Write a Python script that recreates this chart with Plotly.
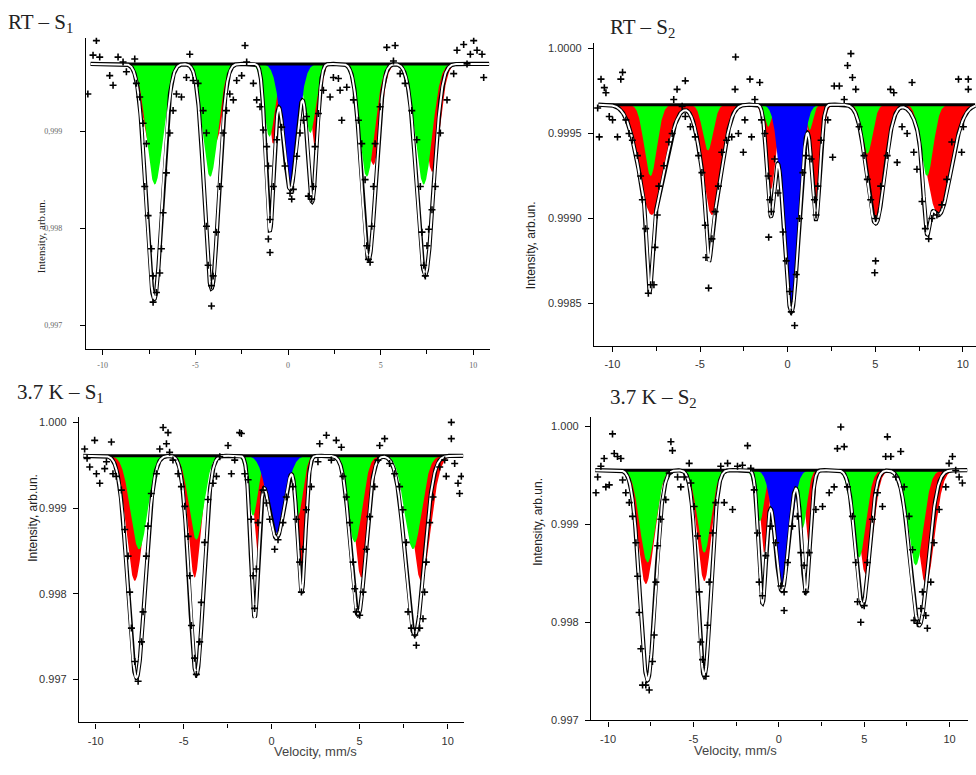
import numpy as np
import plotly.graph_objects as go

# line components: position (mm/s), depth below baseline, gaussian sigma
# ---------------- RT - S1 ----------------
rt1_base = 0.99969
rt1_green_pos = [-7.19, -4.2, -1.0, 1.2, 4.25, 7.32]
rt1_green_dep = [0.00124, 0.00116, 0.00075, 0.00071, 0.00116, 0.00124]
rt1_green_sig = [0.45, 0.42, 0.3, 0.3, 0.42, 0.45]
rt1_red_pos = [-7.5, -3.9, -0.8, 1.45, 4.6, 7.78]
rt1_red_dep = [0.0008, 0.0008, 0.00082, 0.00085, 0.00104, 0.00111]
rt1_red_sig = [0.4, 0.38, 0.25, 0.25, 0.38, 0.4]
rt1_blue_pos = [0.1]
rt1_blue_dep = [0.00124]
rt1_blue_sig = [0.42]
rt1_fit_pos = [-7.22, -4.13, -0.98, 0.12, 1.3, 4.35, 7.4]
rt1_fit_dep = [0.00242, 0.00231, 0.0017, 0.00129, 0.00141, 0.00201, 0.00217]
rt1_fit_sig = [0.42, 0.38, 0.22, 0.36, 0.24, 0.38, 0.44]
rt1_x = [-10.34, -10.52, -10.16, -10.8, -9.62, -9.44, -9.17, -8.9, -8.27, -8.72, -8.18, -8.0, -7.82, -7.64,
         -7.73, -7.55, -7.37, -7.28, -7.28, -7.1, -6.92, -6.83, -6.74, -6.56, -6.38, -6.2, -6.02, -5.75,
         -5.48, -5.3, -5.12, -4.85, -4.58, -4.4, -4.4, -4.31, -4.13, -4.13, -4.04, -3.86, -3.68, -3.5,
         -3.32, -3.14, -2.95, -2.77, -2.5, -2.32, -2.23, -1.87, -1.69, -1.51, -1.33, -1.15, -1.06, -0.97,
         -1.06, -0.97, -0.79, -0.61, -0.34, -0.16, 0.11, 0.2, 0.29, 0.47, 0.65, 0.83, 1.0, 1.1, 1.28,
         1.37, 1.46, 1.64, 1.91, 2.27, 2.45, 2.72, 2.9, 2.81, 3.17, 3.53, 3.8, 3.98, 4.16, 4.25, 4.34,
         4.43, 4.52, 4.61, 4.7, 4.97, 5.33, 5.78, 5.69, 6.05, 6.32, 6.68, 6.95, 7.14, 7.23, 7.32, 7.41,
         7.5, 7.59, 7.77, 7.95, 8.22, 8.58, 8.94, 9.12, 9.48, 9.84, 10.02, 10.2, 10.47, 10.56, 9.66]
rt1_y = [0.99993, 0.99978, 0.99976, 0.99938, 0.99957, 0.99947, 0.99976, 0.99971, 0.99974, 0.99961, 0.99949,
         0.99935, 0.99908, 0.99887, 0.99843, 0.99813, 0.99779, 0.99751, 0.99724, 0.99734, 0.99754, 0.99779,
         0.99816, 0.99857, 0.99898, 0.99921, 0.99938, 0.99935, 0.99955, 0.99979, 0.99952, 0.99949, 0.99921,
         0.99898, 0.99802, 0.99762, 0.99741, 0.9972, 0.99751, 0.99796, 0.99843, 0.99898, 0.99921, 0.99938,
         0.99932, 0.99952, 0.99957, 0.99988, 0.99971, 0.99949, 0.99932, 0.99925, 0.99901, 0.99884, 0.99864,
         0.99809, 0.99789, 0.99775, 0.99843, 0.99891, 0.99904, 0.99864, 0.99836, 0.9983, 0.9984, 0.99874,
         0.99898, 0.99911, 0.99915, 0.99833, 0.9983, 0.99843, 0.99884, 0.99918, 0.99942, 0.99935, 0.99955,
         0.99954, 0.99911, 0.99942, 0.99945, 0.99932, 0.99911, 0.99887, 0.9985, 0.99782, 0.99768, 0.99765,
         0.99802, 0.99843, 0.99887, 0.99925, 0.99986, 0.99988, 0.99972, 0.99959, 0.99949, 0.99921, 0.99891,
         0.99843, 0.99796, 0.99762, 0.99751, 0.99782, 0.99799, 0.99819, 0.99843, 0.99898, 0.99932, 0.99959,
         0.99983, 0.99989, 0.99979, 0.99993, 0.99983, 0.99979, 0.99955, 0.99969]

# ---------------- RT - S2 ----------------
rt2_base = 0.99967
rt2_green_pos = [-7.82, -4.55, -1.11, 1.25, 4.55, 7.95]
rt2_green_dep = [0.00042, 0.00027, 0.00013, 0.00015, 0.00029, 0.00042]
rt2_green_sig = [0.36, 0.3, 0.2, 0.2, 0.3, 0.36]
rt2_red_pos = [-7.76, -4.32, -0.96, 1.62, 5.02, 8.61]
rt2_red_dep = [0.00065, 0.00065, 0.0005, 0.00065, 0.00068, 0.00065]
rt2_red_sig = [0.72, 0.55, 0.28, 0.28, 0.55, 0.7]
rt2_blue_pos = [0.17]
rt2_blue_dep = [0.00121]
rt2_blue_sig = [0.45]
rt2_fit_pos = [-7.76, -7.88, -4.32, -4.5, -0.96, 0.21, 1.62, 5.02, 8.61, 7.92]
rt2_fit_dep = [0.00065, 0.00046, 0.00065, 0.0003, 0.00063, 0.00122, 0.00067, 0.0007, 0.00065, 0.00035]
rt2_fit_sig = [0.72, 0.14, 0.55, 0.14, 0.22, 0.42, 0.22, 0.5, 0.7, 0.18]
rt2_x = [-10.84, -10.75, -10.65, -10.46, -10.37, -10.18, -9.99, -9.71, -9.52, -9.42, -9.23, -9.05, -8.86,
         -8.57, -8.39, -8.29, -8.1, -7.95, -7.82, -7.63, -7.57, -7.44, -7.35, -7.06, -6.78, -6.59, -6.5,
         -6.31, -6.02, -5.84, -5.84, -5.55, -5.27, -5.08, -4.89, -4.7, -4.66, -4.51, -4.32, -4.14, -3.95,
         -3.76, -3.48, -3.19, -3.0, -2.97, -2.81, -2.53, -2.44, -2.15, -2.06, -1.87, -1.59, -1.49, -1.3,
         -1.11, -1.02, -0.93, -1.08, -0.74, -0.55, -0.26, -0.08, 0.11, 0.21, 0.4, 0.49, 0.68, 0.87, 1.06,
         1.34, 1.53, 1.62, 1.72, 1.91, 2.29, 2.57, 2.66, 2.95, 3.23, 3.42, 3.61, 3.7, 3.89, 4.08, 4.36,
         4.55, 4.74, 5.02, 5.02, 4.97, 5.31, 5.68, 5.87, 6.06, 6.25, 6.53, 6.82, 7.1, 7.2, 7.38, 7.67,
         7.86, 8.05, 8.23, 8.52, 8.8, 9.08, 9.37, 9.75, 9.93, 10.03, 10.31, 10.31]
rt2_y = [0.99965, 0.99948, 0.99982, 0.99977, 0.99974, 0.9996, 0.99958, 0.99948, 0.99982, 0.99986, 0.99958,
         0.9995, 0.99946, 0.99937, 0.99925, 0.99911, 0.99894, 0.99856, 0.99861, 0.99861, 0.99883, 0.99902,
         0.99919, 0.99931, 0.99945, 0.9995, 0.9997, 0.99976, 0.99966, 0.99981, 0.9996, 0.99954, 0.99948,
         0.99937, 0.99927, 0.99896, 0.99877, 0.99859, 0.99888, 0.99904, 0.99919, 0.99939, 0.99946, 0.99948,
         0.99976, 0.99995, 0.9995, 0.99939, 0.99958, 0.99982, 0.99948, 0.9997, 0.9998, 0.99958, 0.9995,
         0.99925, 0.99911, 0.99904, 0.99889, 0.99935, 0.99915, 0.99892, 0.99875, 0.99857, 0.99845, 0.99837,
         0.99867, 0.999, 0.99927, 0.99937, 0.99935, 0.99911, 0.99902, 0.99919, 0.99946, 0.99958, 0.99936,
         0.99978, 0.99978, 0.9997, 0.9999, 0.99997, 0.99983, 0.99976, 0.99954, 0.99937, 0.99923, 0.99911,
         0.999, 0.99875, 0.99868, 0.99919, 0.99937, 0.99976, 0.99974, 0.99933, 0.99954, 0.9995, 0.9998,
         0.99939, 0.99929, 0.9991, 0.99894, 0.99888, 0.999, 0.99902, 0.99908, 0.99923, 0.99945, 0.99982,
         0.99939, 0.99954, 0.99976, 0.99982]

# ---------------- 3.7 K - S1 ----------------
lt1_base = 0.99961
lt1_green_pos = [-7.54, -4.28, -1.06, 1.5, 4.72, 8.03]
lt1_green_dep = [0.00109, 0.00098, 0.0007, 0.0007, 0.00101, 0.00109]
lt1_green_sig = [0.48, 0.42, 0.28, 0.28, 0.42, 0.48]
lt1_red_pos = [-7.78, -4.38, -0.78, 1.69, 5.09, 8.5]
lt1_red_dep = [0.00146, 0.00142, 0.00113, 0.00138, 0.00142, 0.00146]
lt1_red_sig = [0.48, 0.36, 0.22, 0.22, 0.4, 0.52]
lt1_blue_pos = [0.27]
lt1_blue_dep = [0.0009]
lt1_blue_sig = [0.5]
lt1_fit_pos = [-7.69, -4.28, -0.97, 0.27, 1.69, 4.91, 8.13]
lt1_fit_dep = [0.00259, 0.00255, 0.00186, 0.00096, 0.00159, 0.00186, 0.00209]
lt1_fit_sig = [0.48, 0.4, 0.22, 0.45, 0.22, 0.42, 0.52]
lt1_x = [-10.63, -10.49, -10.34, -10.06, -9.96, -9.77, -9.49, -9.39, -9.11, -9.02, -8.83, -8.54, -8.35,
         -8.16, -8.07, -7.97, -7.78, -7.59, -7.4, -7.31, -7.12, -7.03, -6.84, -6.55, -6.36, -6.17, -5.98,
         -5.89, -5.8, -5.61, -5.32, -5.13, -4.94, -4.75, -4.66, -4.56, -4.38, -4.28, -4.09, -4.0, -3.81,
         -3.62, -3.33, -3.14, -2.95, -2.48, -2.29, -2.1, -1.82, -1.72, -1.53, -1.34, -1.16, -1.06, -0.97,
         -0.87, -0.78, -0.49, -0.3, -0.11, 0.17, 0.36, 0.64, 0.83, 1.21, 1.4, 1.59, 1.69, 1.78, 1.97, 2.25,
         2.63, 2.73, 3.11, 3.39, 3.67, 3.96, 4.05, 4.24, 4.43, 4.62, 4.72, 4.81, 5.0, 5.19, 5.38, 5.57,
         5.85, 6.04, 6.14, 6.42, 6.7, 6.99, 7.27, 7.46, 7.65, 7.75, 7.94, 8.13, 8.22, 8.41, 8.6, 8.69,
         8.79, 8.98, 9.17, 9.55, 9.83, 9.92, 10.21, 10.21, 10.4, 10.59, 10.68, 10.78]
lt1_y = [0.99969, 0.99958, 0.99948, 0.99979, 0.9994, 0.99929, 0.99946, 0.99954, 0.99977, 0.9994, 0.99937,
         0.99921, 0.99875, 0.99844, 0.99802, 0.9976, 0.99721, 0.99698, 0.99744, 0.99779, 0.99844, 0.99879,
         0.99917, 0.9994, 0.99969, 0.99994, 0.99975, 0.99988, 0.99965, 0.99956, 0.9994, 0.99925, 0.99902,
         0.99867, 0.99821, 0.99763, 0.99725, 0.99706, 0.99744, 0.9979, 0.9986, 0.9991, 0.99929, 0.99937,
         0.9996, 0.99973, 0.9994, 0.99956, 0.99988, 0.99987, 0.9994, 0.99933, 0.99887, 0.99821, 0.99783,
         0.99829, 0.99883, 0.99921, 0.99906, 0.99887, 0.99852, 0.99863, 0.99883, 0.99913, 0.99925, 0.99887,
         0.99837, 0.99802, 0.99852, 0.99898, 0.99925, 0.99954, 0.99975, 0.99985, 0.99956, 0.99979, 0.99971,
         0.99937, 0.99913, 0.99883, 0.99837, 0.99806, 0.99779, 0.99775, 0.99802, 0.99852, 0.9989, 0.99925,
         0.99956, 0.99973, 0.99981, 0.99952, 0.9994, 0.99925, 0.99898, 0.9986, 0.99779, 0.9976, 0.99752,
         0.9974, 0.9976, 0.99771, 0.99802, 0.99837, 0.99883, 0.99913, 0.99948, 0.99956, 0.99937, 1.0,
         0.99981, 0.99952, 0.99929, 0.99917, 0.99937]

# ---------------- 3.7 K - S2 ----------------
lt2_base = 0.99955
lt2_green_pos = [-7.69, -4.37, -1.11, 1.39, 4.7, 8.02]
lt2_green_dep = [0.00094, 0.00084, 0.00052, 0.00059, 0.00089, 0.00097]
lt2_green_sig = [0.45, 0.4, 0.26, 0.26, 0.4, 0.45]
lt2_red_pos = [-7.79, -4.37, -0.86, 1.78, 5.09, 8.61]
lt2_red_dep = [0.00116, 0.00113, 0.00084, 0.00081, 0.00106, 0.00116]
lt2_red_sig = [0.48, 0.4, 0.22, 0.22, 0.42, 0.5]
lt2_blue_pos = [0.21]
lt2_blue_dep = [0.00124]
lt2_blue_sig = [0.45]
lt2_fit_pos = [-7.69, -4.37, -0.96, 0.18, 1.58, 4.9, 8.22]
lt2_fit_dep = [0.00214, 0.0021, 0.00134, 0.00123, 0.00124, 0.00138, 0.00158]
lt2_fit_sig = [0.44, 0.38, 0.22, 0.38, 0.24, 0.4, 0.52]
lt2_x = [-10.71, -10.61, -10.42, -10.23, -10.13, -9.93, -9.74, -9.64, -9.45, -9.25, -9.15, -8.96, -8.76,
         -8.57, -8.37, -8.27, -8.18, -8.08, -7.98, -7.79, -7.59, -7.4, -7.3, -7.2, -7.1, -6.91, -6.62,
         -6.42, -6.32, -6.23, -5.93, -5.74, -5.54, -5.25, -5.15, -4.96, -4.76, -4.66, -4.57, -4.47, -4.27,
         -4.18, -4.08, -3.88, -3.69, -3.4, -3.2, -3.0, -2.71, -2.42, -2.13, -1.83, -1.64, -1.44, -1.25,
         -1.15, -0.96, -0.76, -0.47, -0.18, 0.12, 0.31, 0.31, 0.51, 0.8, 1.09, 1.29, 1.48, 1.58, 1.78,
         2.17, 2.56, 2.95, 3.24, 3.43, 3.83, 3.63, 4.02, 4.31, 4.51, 4.61, 4.8, 5.0, 5.19, 5.48, 5.78,
         6.07, 6.26, 6.36, 6.56, 6.85, 7.14, 7.34, 7.63, 7.83, 7.92, 8.12, 8.32, 8.41, 8.61, 8.7, 8.9,
         9.09, 9.39, 9.78, 9.97, 10.17, 10.36, 10.56, 10.75]
lt2_y = [0.99932, 0.99948, 0.99959, 0.99967, 0.99938, 0.9994, 0.99992, 0.99972, 0.99969, 0.99967, 0.99945,
         0.99932, 0.99922, 0.99908, 0.99881, 0.99847, 0.9981, 0.99773, 0.99736, 0.99736, 0.99731, 0.9976,
         0.99787, 0.99841, 0.99878, 0.99905, 0.99925, 0.99952, 0.99984, 0.99975, 0.99948, 0.99938, 0.99948,
         0.99962, 0.99942, 0.99918, 0.99888, 0.99831, 0.9978, 0.99762, 0.99745, 0.99797, 0.99841, 0.99891,
         0.99922, 0.99959, 0.99922, 0.99962, 0.99915, 0.99959, 0.9996, 0.9998, 0.99957, 0.99935, 0.99891,
         0.99841, 0.99827, 0.99868, 0.99898, 0.99881, 0.99837, 0.99831, 0.99812, 0.99861, 0.99898, 0.99908,
         0.99871, 0.99858, 0.99831, 0.99871, 0.99915, 0.99918, 0.99932, 0.99938, 0.99977, 0.99979, 0.99999,
         0.99938, 0.99908, 0.99861, 0.99821, 0.998, 0.99817, 0.99861, 0.99905, 0.99932, 0.99918, 0.99969,
         0.99989, 0.99969, 0.99948, 0.99974, 0.99938, 0.99908, 0.99874, 0.99802, 0.99799, 0.99814, 0.99831,
         0.99807, 0.99794, 0.99841, 0.99881, 0.99915, 0.99938, 0.99962, 0.99969, 0.99955, 0.99948, 0.99942]

W, H = 976, 775


def lines(x, pos, dep, sig):
    out = np.zeros_like(x)
    for p, d, s in zip(pos, dep, sig):
        out += d * np.exp(-(x - p) ** 2 / (2 * s * s))
    return out


def px(a, b, total):
    return [a / total, b / total]


def py(top, bottom):
    return [1 - bottom / H, 1 - top / H]


panels = [
    dict(title="RT – S<sub>1</sub>", tx=6, ty=22, base=rt1_base,
         green=(rt1_green_pos, rt1_green_dep, rt1_green_sig),
         red=(rt1_red_pos, rt1_red_dep, rt1_red_sig),
         blue=(rt1_blue_pos, rt1_blue_dep, rt1_blue_sig),
         fit=(rt1_fit_pos, rt1_fit_dep, rt1_fit_sig), pts=(rt1_x, rt1_y),
         xdom=(86, 490), ydom=(37, 351), xr=[-10.9, 10.9], yr=[0.99676, 0.99996],
         yt=[0.997, 0.998, 0.999], ytt=["0,997", "0,998", "0,999"],
         ylab_x=33, ylab_y=198, serif=True, xlabel=False),
    dict(title="RT – S<sub>2</sub>", tx=608, ty=27, base=rt2_base,
         green=(rt2_green_pos, rt2_green_dep, rt2_green_sig),
         red=(rt2_red_pos, rt2_red_dep, rt2_red_sig),
         blue=(rt2_blue_pos, rt2_blue_dep, rt2_blue_sig),
         fit=(rt2_fit_pos, rt2_fit_dep, rt2_fit_sig), pts=(rt2_x, rt2_y),
         xdom=(594, 976), ydom=(42, 348), xr=[-11.05, 10.75], yr=[0.99825, 1.000035],
         yt=[0.9985, 0.999, 0.9995, 1.0], ytt=["0.9985", "0.9990", "0.9995", "1.0000"],
         ylab_x=531, ylab_y=200, serif=False, xlabel=False),
    dict(title="3.7 K – S<sub>1</sub>", tx=15, ty=396, base=lt1_base,
         green=(lt1_green_pos, lt1_green_dep, lt1_green_sig),
         red=(lt1_red_pos, lt1_red_dep, lt1_red_sig),
         blue=(lt1_blue_pos, lt1_blue_dep, lt1_blue_sig),
         fit=(lt1_fit_pos, lt1_fit_dep, lt1_fit_sig), pts=(lt1_x, lt1_y),
         xdom=(79, 464), ydom=(420, 728), xr=[-10.95, 10.93], yr=[0.9965, 1.00006],
         yt=[0.997, 0.998, 0.999, 1.0], ytt=["0.997", "0.998", "0.999", "1.000"],
         ylab_x=24, ylab_y=568, serif=False, xlabel=True, xl_x=272, xl_y=767),
    dict(title="3.7 K – S<sub>2</sub>", tx=608, ty=401, base=lt2_base,
         green=(lt2_green_pos, lt2_green_dep, lt2_green_sig),
         red=(lt2_red_pos, lt2_red_dep, lt2_red_sig),
         blue=(lt2_blue_pos, lt2_blue_dep, lt2_blue_sig),
         fit=(lt2_fit_pos, lt2_fit_dep, lt2_fit_sig), pts=(lt2_x, lt2_y),
         xdom=(591, 968), ydom=(420, 726), xr=[-11.0, 11.08], yr=[0.997, 1.00009],
         yt=[0.997, 0.998, 0.999, 1.0], ytt=["0.997", "0.998", "0.999", "1.000"],
         ylab_x=538, ylab_y=572, serif=False, xlabel=True, xl_x=779, xl_y=766),
]

fig = go.Figure()
annotations = []
for i, p in enumerate(panels):
    n = "" if i == 0 else str(i + 1)
    xa, ya = "x" + n, "y" + n
    grid = np.linspace(p["xr"][0] + 0.25, p["xr"][1] - 0.05, 1600)
    base = p["base"]
    for key, col in [("red", "#ff0000"), ("green", "#00ff00"), ("blue", "#0000ff")]:
        curve = base - lines(grid, *p[key])
        fig.add_trace(go.Scatter(
            x=np.concatenate([grid, grid[::-1]]),
            y=np.concatenate([curve, np.full_like(grid, base)]),
            fill="toself", fillcolor=col, line=dict(width=0), mode="lines",
            hoverinfo="skip", xaxis=xa, yaxis=ya, showlegend=False))
    fit = base - lines(grid, *p["fit"])
    fig.add_trace(go.Scatter(x=[grid[0], grid[-1]], y=[base, base], mode="lines",
                             line=dict(color="black", width=3), xaxis=xa, yaxis=ya, showlegend=False))
    fig.add_trace(go.Scatter(x=grid, y=fit, mode="lines", line=dict(color="black", width=4.2),
                             xaxis=xa, yaxis=ya, showlegend=False))
    fig.add_trace(go.Scatter(x=grid, y=fit, mode="lines", line=dict(color="white", width=2),
                             xaxis=xa, yaxis=ya, showlegend=False))
    fig.add_trace(go.Scatter(x=p["pts"][0], y=p["pts"][1], mode="markers",
                             marker=dict(symbol="cross-thin", size=5, color="black",
                                         line=dict(color="black", width=1.6)),
                             xaxis=xa, yaxis=ya, showlegend=False))

    tick_font = dict(family="Liberation Serif", size=8, color="#666") if p["serif"] else \
        dict(family="Liberation Sans", size=11, color="#333")
    fig.update_layout(**{
        "xaxis" + n: dict(domain=px(*p["xdom"], W), range=p["xr"], anchor=ya,
                          tickvals=[-10, -5, 0, 5, 10], ticktext=["-10", "-5", "0", "5", "10"],
                          ticks="outside", ticklen=5, tickcolor="black", showline=True,
                          linecolor="black", linewidth=1.3, showgrid=False, zeroline=False,
                          tickfont=tick_font, ticklabelstandoff=3,
                          minor=dict(tickvals=[-7.5, -2.5, 2.5, 7.5], ticks="outside", ticklen=4,
                                     tickcolor="black")),
        "yaxis" + n: dict(domain=py(*p["ydom"]), range=p["yr"], anchor=xa,
                          tickvals=p["yt"], ticktext=p["ytt"], ticks="outside", ticklen=5,
                          tickcolor="black", showline=True, linecolor="black", linewidth=1.3,
                          showgrid=False, zeroline=False, tickfont=tick_font,
                          ticklabelstandoff=16 if p["serif"] else 4),
    })
    annotations.append(dict(text=p["title"], x=p["tx"] / W, y=1 - p["ty"] / H, xref="paper", yref="paper",
                            xanchor="left", yanchor="middle", showarrow=False,
                            font=dict(family="Liberation Serif", size=21, color="#222")))
    annotations.append(dict(text="Intensity, arb.un.", x=p["ylab_x"] / W, y=1 - p["ylab_y"] / H,
                            xref="paper", yref="paper", textangle=-90, showarrow=False,
                            font=dict(family="Liberation Serif" if p["serif"] else "Liberation Sans",
                                      size=11 if p["serif"] else 12, color="#222")))
    if p["xlabel"]:
        annotations.append(dict(text="Velocity, mm/s", x=p["xl_x"] / W, y=1 - p["xl_y"] / H,
                                xref="paper", yref="paper", showarrow=False,
                                font=dict(family="Liberation Sans", size=13, color="#444")))

fig.update_layout(width=W, height=H, margin=dict(l=0, r=0, t=0, b=0),
                  plot_bgcolor="white", paper_bgcolor="white", annotations=annotations)
fig.write_html("out.html", config={"displayModeBar": False},
               post_script="document.body.style.margin='0px';")
